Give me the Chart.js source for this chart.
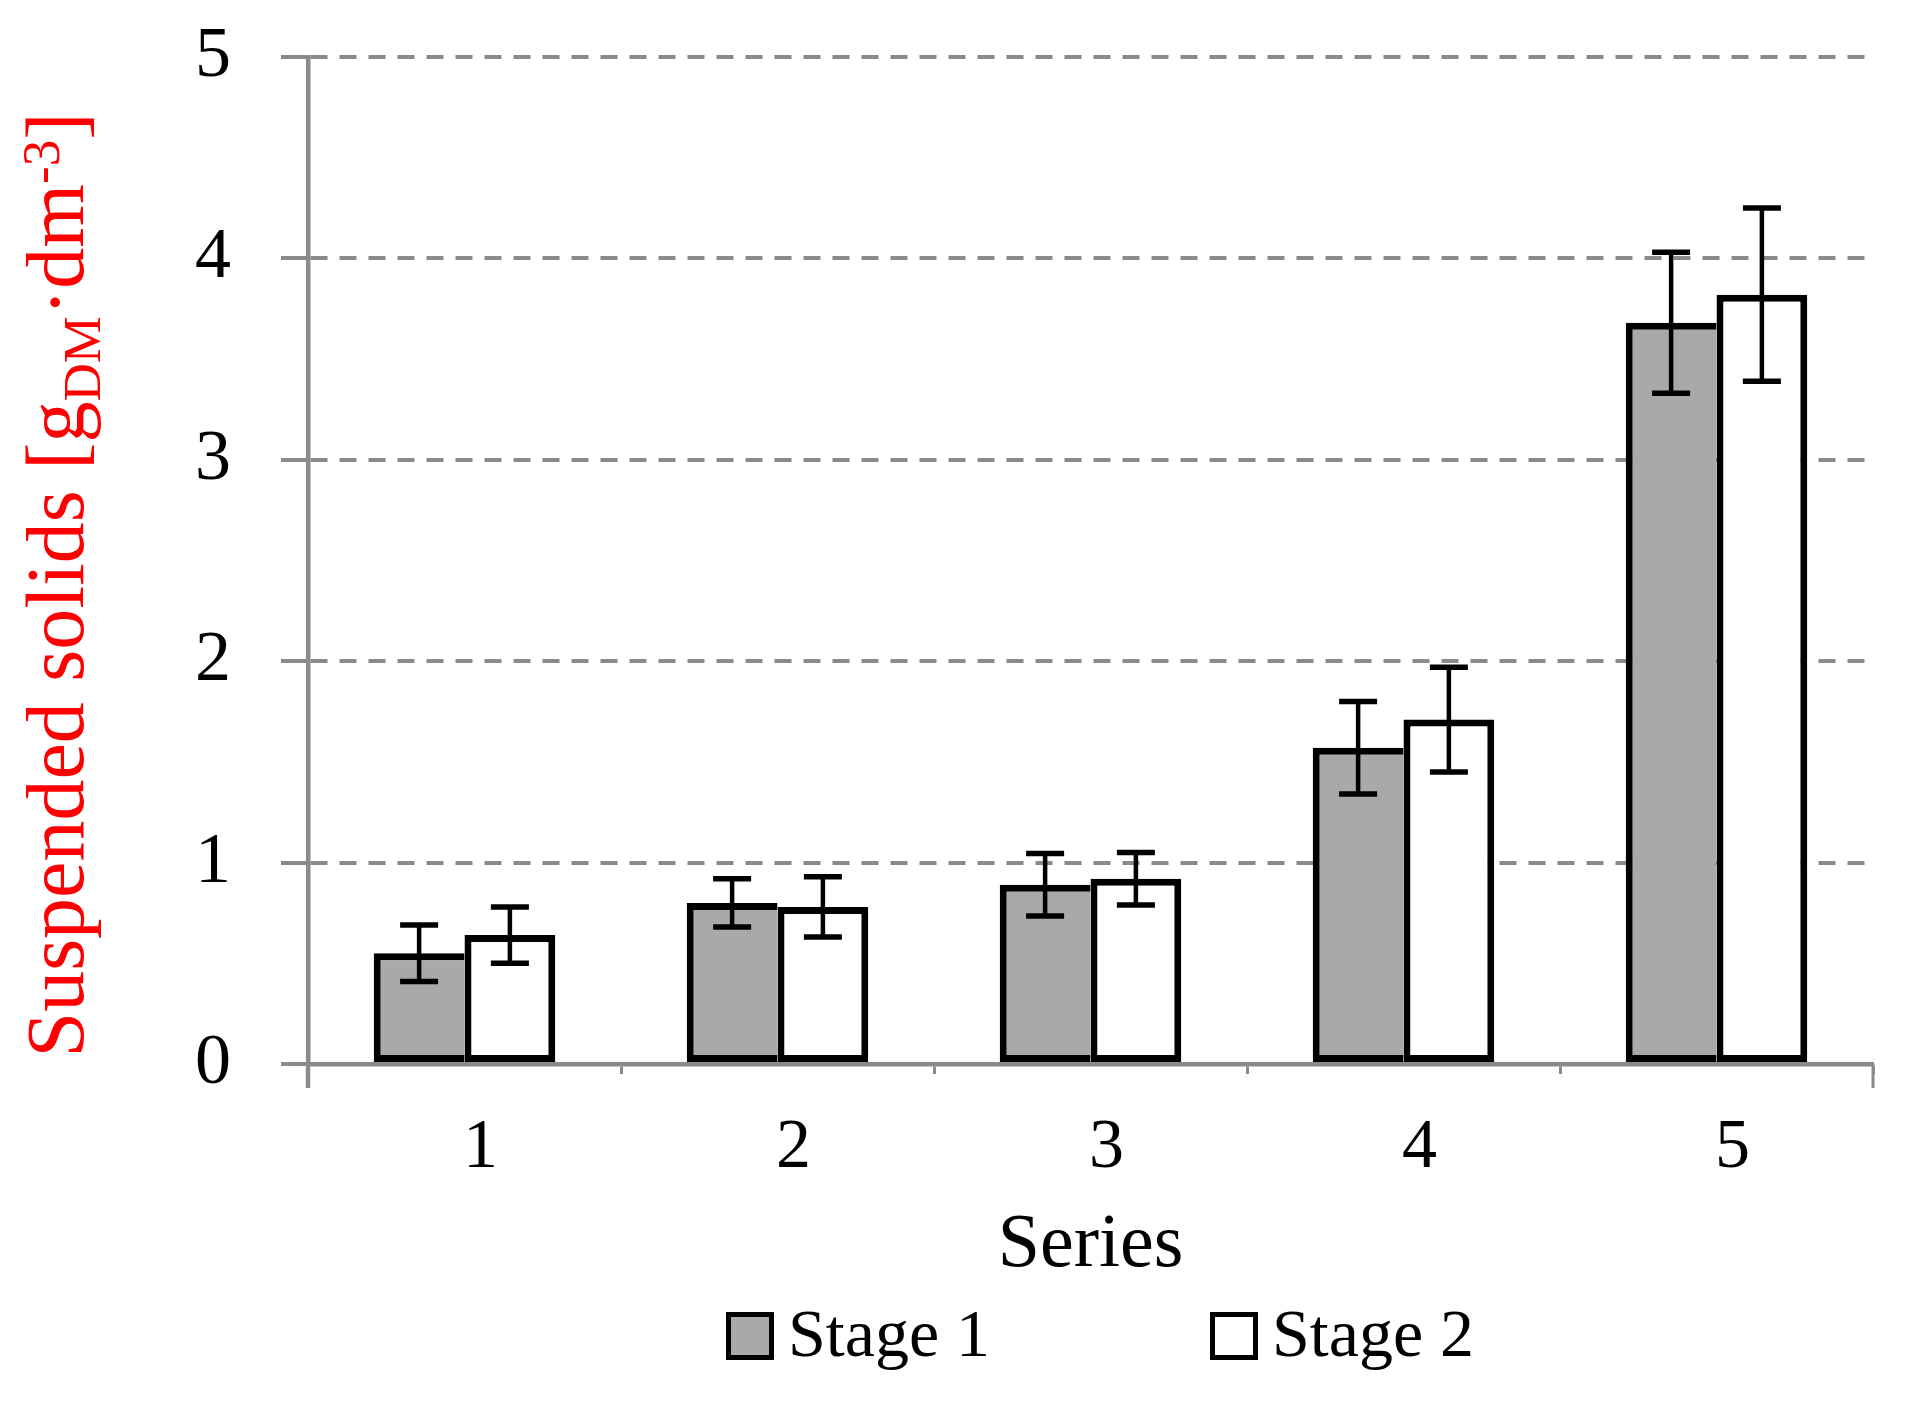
<!DOCTYPE html>
<html><head><meta charset="utf-8">
<script src="https://cdn.jsdelivr.net/npm/chart.js@4"></script>
<style>html,body{margin:0;padding:0;background:#fff;overflow:hidden;}</style>
</head><body>
<canvas id="c" width="1907" height="1411"></canvas>
<script>
// ---- data ----
const categories = ['1', '2', '3', '4', '5'];
const seriesNames = ['Stage 1', 'Stage 2'];
const stage1 = [0.55, 0.80, 0.89, 1.57, 3.68];
const stage2 = [0.64, 0.78, 0.92, 1.71, 3.82];
const stage1Err = [0.14, 0.12, 0.155, 0.23, 0.35];
const stage2Err = [0.14, 0.15, 0.13, 0.26, 0.43];
const yTicks = [0, 1, 2, 3, 4, 5];
const xTitle = 'Series';
const yTitleMain = 'Suspended solids [g';
const yTitleSub = 'DM';
const yTitleMid = '·dm';
const yTitleSup = '-3';
const yTitleEnd = ']';

const FONT = "'Liberation Serif', 'Times New Roman', serif";
const GREY = '#8a8a8a';
const errorSets = [stage1Err, stage2Err];

const errorBarPlugin = {
  id: 'errorBars',
  afterDatasetsDraw(chart) {
    const ctx = chart.ctx, y = chart.scales.y;
    chart.data.datasets.forEach((ds, i) => {
      const meta = chart.getDatasetMeta(i);
      const errs = errorSets[i];
      meta.data.forEach((bar, j) => {
        const v = ds.data[j], e = errs[j];
        const yT = y.getPixelForValue(v + e), yB = y.getPixelForValue(v - e);
        const x = bar.x;
        ctx.save();
        ctx.strokeStyle = '#000';
        ctx.lineWidth = 4.5;
        ctx.beginPath(); ctx.moveTo(x, yT); ctx.lineTo(x, yB); ctx.stroke();
        ctx.lineWidth = 5.5;
        ctx.beginPath();
        ctx.moveTo(x - 19, yT); ctx.lineTo(x + 19, yT);
        ctx.moveTo(x - 19, yB); ctx.lineTo(x + 19, yB);
        ctx.stroke();
        ctx.restore();
      });
    });
  }
};

const axisExtPlugin = {
  id: 'axisExt',
  afterDraw(chart) {
    const ctx = chart.ctx, a = chart.chartArea;
    ctx.save();
    ctx.strokeStyle = GREY;
    ctx.lineWidth = 4.5;
    ctx.beginPath(); ctx.moveTo(a.left, a.bottom); ctx.lineTo(a.left, a.bottom + 24); ctx.stroke();
    ctx.lineWidth = 3;
    ctx.beginPath(); ctx.moveTo(a.right, a.bottom); ctx.lineTo(a.right, a.bottom + 24); ctx.stroke();
    ctx.restore();
  }
};

const yTitlePlugin = {
  id: 'yTitle',
  afterDraw(chart) {
    const ctx = chart.ctx;
    const big = 82, small = 53;
    const parts = [
      {t: yTitleMain, s: big, dy: 0},
      {t: yTitleSub, s: small, dy: 17},
      {t: yTitleMid, s: big, dy: 0},
      {t: yTitleSup, s: small, dy: -24},
      {t: yTitleEnd, s: big, dy: 0}
    ];
    ctx.save();
    let total = 0;
    parts.forEach(p => { ctx.font = p.s + 'px ' + FONT; p.w = ctx.measureText(p.t).width; total += p.w; });
    ctx.translate(83, 585);
    ctx.rotate(-Math.PI / 2);
    ctx.fillStyle = '#ff0000';
    ctx.textBaseline = 'alphabetic';
    ctx.textAlign = 'left';
    let x = -total / 2;
    parts.forEach(p => { ctx.font = p.s + 'px ' + FONT; ctx.fillText(p.t, x, p.dy); x += p.w; });
    ctx.restore();
  }
};

const legendPlugin = {
  id: 'customLegend',
  afterDraw(chart) {
    const ctx = chart.ctx;
    const boxX = [726, 1210];
    ctx.save();
    ctx.font = '68px ' + FONT;
    ctx.textBaseline = 'alphabetic';
    ctx.textAlign = 'left';
    chart.data.datasets.forEach((ds, i) => {
      const bx = boxX[i];
      ctx.fillStyle = ds.backgroundColor;
      ctx.fillRect(bx, 1312, 48, 48);
      ctx.strokeStyle = '#000';
      ctx.lineWidth = 5;
      ctx.strokeRect(bx + 2.5, 1314.5, 43, 43);
      ctx.fillStyle = '#000';
      ctx.fillText(ds.label, bx + 62, 1356);
    });
    ctx.restore();
  }
};

new Chart(document.getElementById('c'), {
  type: 'bar',
  data: {
    labels: categories,
    datasets: [
      {label: seriesNames[0], data: stage1, backgroundColor: '#a9a9a9', borderColor: '#000',
       borderWidth: {top: 7, left: 7, bottom: 7, right: 0}, borderSkipped: false,
       categoryPercentage: 0.58, barPercentage: 1.0},
      {label: seriesNames[1], data: stage2, backgroundColor: '#ffffff', borderColor: '#000',
       borderWidth: 7, borderSkipped: false,
       categoryPercentage: 0.58, barPercentage: 1.0}
    ]
  },
  options: {
    responsive: false,
    animation: false,
    devicePixelRatio: 1,
    layout: {padding: {top: 57, right: 34, bottom: 127, left: 0}},
    plugins: {legend: {display: false}, tooltip: {enabled: false}, title: {display: false}},
    scales: {
      x: {
        type: 'category', offset: true, z: 1,
        grid: {display: true, drawOnChartArea: false, drawTicks: true, tickLength: 10, tickColor: GREY, tickWidth: 3},
        border: {display: true, color: GREY, width: 4.5},
        ticks: {color: '#000', font: {family: FONT, size: 70}, padding: 33, labelOffset: 16, maxRotation: 0, autoSkip: false},
        title: {display: true, text: xTitle, color: '#000', font: {family: FONT, size: 76, lineHeight: 1}, padding: 0},
        afterFit: (s) => { s.height = 220; }
      },
      y: {
        min: 0, max: 5,
        afterBuildTicks: (s) => { s.ticks = yTicks.map(v => ({value: v})); },
        ticks: {color: '#000', font: {family: FONT, size: 72}, padding: 50},
        grid: {color: GREY, lineWidth: 4, drawTicks: true, tickLength: 27, tickColor: GREY, tickWidth: 4, tickBorderDash: []},
        border: {display: true, color: GREY, width: 4.5, dash: [17, 12]},
        afterFit: (s) => { s.width = 308; s.paddingTop = 40; s.paddingBottom = 40; }
      }
    }
  },
  plugins: [errorBarPlugin, axisExtPlugin, yTitlePlugin, legendPlugin]
});
</script>
</body></html>
